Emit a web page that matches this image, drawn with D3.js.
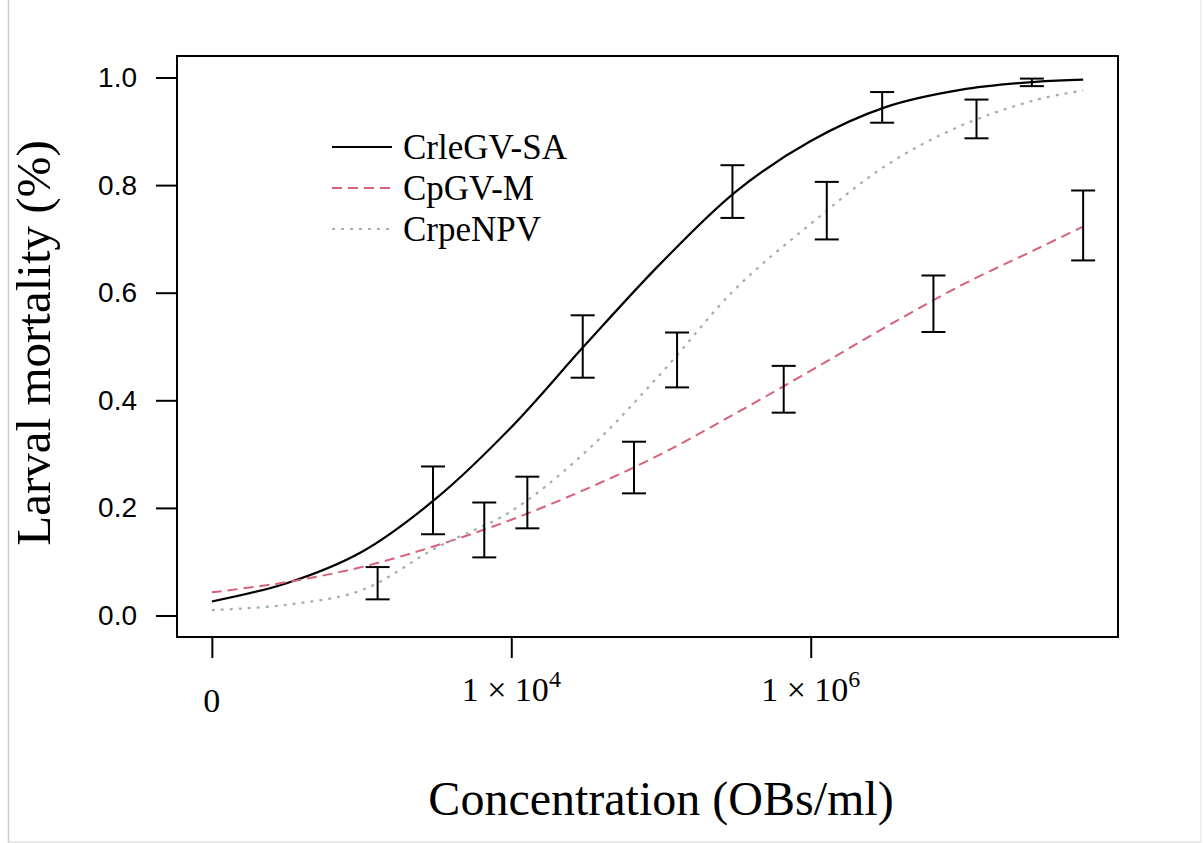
<!doctype html>
<html lang="en">
  <head>
    <meta charset="UTF-8" />
    <title>Larval mortality vs concentration</title>
    <script src="https://d3js.org/d3.v7.min.js"></script>
    <style>
      body {
        margin: 0;
        background: #ffffff;
      }
      svg {
        display: block;
      }
      .serif {
        font-family: 'Liberation Serif', 'Times New Roman', serif;
        fill: #000;
      }
      .ytick text {
        font-family: 'Liberation Sans', Arial, sans-serif;
        font-size: 28px;
        fill: #000;
      }
      .tick line {
        stroke: #000;
        stroke-width: 2;
      }
    </style>
  </head>
  <body>
    <svg id="chart" width="1203" height="843"></svg>

    <script>
      // fitted curves (concentration, mortality)
      const curveDoses = [100, 316, 1000, 3162, 10000, 31623, 1e5, 316228, 1e6, 3162278, 1e7, 31622777, 6.6e7]
      const crleCurve = [0.026, 0.06, 0.118, 0.218, 0.35, 0.505, 0.655, 0.788, 0.882, 0.945, 0.977, 0.992, 0.996]
      const cpgvCurve = [0.043, 0.062, 0.09, 0.13, 0.178, 0.235, 0.3, 0.376, 0.455, 0.536, 0.613, 0.68, 0.723]
      const crpeCurve = [0.01, 0.02, 0.047, 0.126, 0.194, 0.305, 0.45, 0.608, 0.728, 0.836, 0.91, 0.958, 0.976]

      // observed concentrations and error bars (low, high)
      const crleDoses = [3e3, 3e4, 3e5, 3e6, 3e7]
      const crleLow = [0.151, 0.442, 0.739, 0.916, 0.984]
      const crleHigh = [0.277, 0.558, 0.837, 0.973, 0.998]

      const cpgvDoses = [6.6e3, 6.6e4, 6.6e5, 6.6e6, 6.6e7]
      const cpgvLow = [0.108, 0.227, 0.377, 0.527, 0.66]
      const cpgvHigh = [0.21, 0.323, 0.464, 0.632, 0.79]

      const crpeDoses = [1.28e3, 1.28e4, 1.28e5, 1.28e6, 1.28e7]
      const crpeLow = [0.03, 0.162, 0.424, 0.699, 0.887]
      const crpeHigh = [0.09, 0.258, 0.526, 0.806, 0.959]

      const seriesNames = ['CrleGV-SA', 'CpGV-M', 'CrpeNPV']

      const yTicks = [0, 0.2, 0.4, 0.6, 0.8, 1.0]
      const xTickValues = [1e2, 1e4, 1e6]
      const xTickLabels = ['0', '1 × 10^4', '1 × 10^6']

      const series = [
        { name: seriesNames[0], curve: crleCurve, doses: crleDoses, low: crleLow, high: crleHigh, color: '#000000', dash: null, width: 2.2 },
        { name: seriesNames[1], curve: cpgvCurve, doses: cpgvDoses, low: cpgvLow, high: cpgvHigh, color: '#d9607a', dash: '10,6', width: 2 },
        { name: seriesNames[2], curve: crpeCurve, doses: crpeDoses, low: crpeLow, high: crpeHigh, color: '#9fb0ad', dash: '3,6', width: 2.2 },
      ]

      const svg = d3.select('#chart')
      const margin = { top: 56, right: 85, bottom: 206, left: 177 }
      const width = +svg.attr('width')
      const height = +svg.attr('height')
      const plotW = width - margin.left - margin.right
      const plotH = height - margin.top - margin.bottom

      // R style: 4% extension on each side (log space for x)
      const xExt = d3.extent(curveDoses).map(Math.log10)
      const xPad = (xExt[1] - xExt[0]) * 0.04
      const x = d3
        .scaleLog()
        .domain([Math.pow(10, xExt[0] - xPad), Math.pow(10, xExt[1] + xPad)])
        .range([0, plotW])

      const y = d3.scaleLinear().domain([-0.04, 1.04]).range([plotH, 0])

      // faint frame of the original image
      svg.append('line').attr('x1', 8.5).attr('x2', 8.5).attr('y1', 0).attr('y2', height)
        .attr('stroke', '#cfcfcf').attr('stroke-width', 1.5)
      svg.append('line').attr('x1', 8).attr('x2', 1201).attr('y1', 842).attr('y2', 842)
        .attr('stroke', '#e2e2e2').attr('stroke-width', 1.5)
      svg.append('line').attr('x1', 1201).attr('x2', 1201).attr('y1', 0).attr('y2', height)
        .attr('stroke', '#ececec').attr('stroke-width', 1.5)

      const g = svg.append('g').attr('transform', `translate(${margin.left},${margin.top})`)

      // y axis
      const yAxis = g
        .append('g')
        .attr('class', 'ytick')
        .call(d3.axisLeft(y).tickValues(yTicks).tickSize(21).tickPadding(19).tickFormat(d3.format('.1f')))
      yAxis.select('.domain').remove()

      // x axis (labels drawn by hand for the superscripts)
      const xAxis = g
        .append('g')
        .attr('transform', `translate(0,${plotH})`)
        .call(d3.axisBottom(x).tickValues(xTickValues).tickSize(21).tickFormat(''))
      xAxis.select('.domain').remove()

      xTickValues.forEach((v, i) => {
        const parts = xTickLabels[i].split('^')
        const t = g
          .append('text')
          .attr('class', 'serif')
          .attr('x', x(v))
          .attr('y', plotH + (parts.length > 1 ? 64 : 75))
          .attr('text-anchor', 'middle')
          .style('font-size', '34px')
          .text(parts[0])
        if (parts.length > 1) {
          t.append('tspan').attr('dy', -14).style('font-size', '24px').text(parts[1])
        }
      })

      // curves
      const line = d3
        .line()
        .x((d) => x(d[0]))
        .y((d) => y(d[1]))
        .curve(d3.curveCatmullRom.alpha(0.5))

      series.forEach((s) => {
        g.append('path')
          .datum(curveDoses.map((d, i) => [d, s.curve[i]]))
          .attr('d', line)
          .attr('fill', 'none')
          .attr('stroke', s.color)
          .attr('stroke-width', s.width)
          .attr('stroke-dasharray', s.dash)
      })

      // error bars
      const cap = 12
      series.forEach((s) => {
        const bars = g
          .selectAll(null)
          .data(s.doses.map((d, i) => ({ dose: d, lo: s.low[i], hi: s.high[i] })))
          .enter()
          .append('g')
          .attr('stroke', '#000')
          .attr('stroke-width', 2)

        bars.append('line')
          .attr('x1', (d) => x(d.dose)).attr('x2', (d) => x(d.dose))
          .attr('y1', (d) => y(d.lo)).attr('y2', (d) => y(d.hi))
        bars.append('line')
          .attr('x1', (d) => x(d.dose) - cap).attr('x2', (d) => x(d.dose) + cap)
          .attr('y1', (d) => y(d.lo)).attr('y2', (d) => y(d.lo))
        bars.append('line')
          .attr('x1', (d) => x(d.dose) - cap).attr('x2', (d) => x(d.dose) + cap)
          .attr('y1', (d) => y(d.hi)).attr('y2', (d) => y(d.hi))
      })

      // plot box
      g.append('rect')
        .attr('width', plotW)
        .attr('height', plotH)
        .attr('fill', 'none')
        .attr('stroke', '#000')
        .attr('stroke-width', 2)

      // legend
      const legend = g.append('g').attr('transform', 'translate(155,91)')
      series.forEach((s, i) => {
        legend.append('line')
          .attr('x1', 0).attr('x2', 60)
          .attr('y1', i * 41).attr('y2', i * 41)
          .attr('stroke', s.color)
          .attr('stroke-width', s.width)
          .attr('stroke-dasharray', s.dash)
        legend.append('text')
          .attr('class', 'serif')
          .attr('x', 71)
          .attr('y', i * 41 + 12)
          .style('font-size', '35px')
          .text(s.name)
      })

      // axis titles
      svg.append('text')
        .attr('class', 'serif')
        .attr('transform', 'translate(50,343) rotate(-90)')
        .attr('text-anchor', 'middle')
        .style('font-size', '49px')
        .text('Larval mortality (%)')

      svg.append('text')
        .attr('class', 'serif')
        .attr('x', 661)
        .attr('y', 815)
        .attr('text-anchor', 'middle')
        .style('font-size', '48px')
        .text('Concentration (OBs/ml)')
    </script>
  </body>
</html>
